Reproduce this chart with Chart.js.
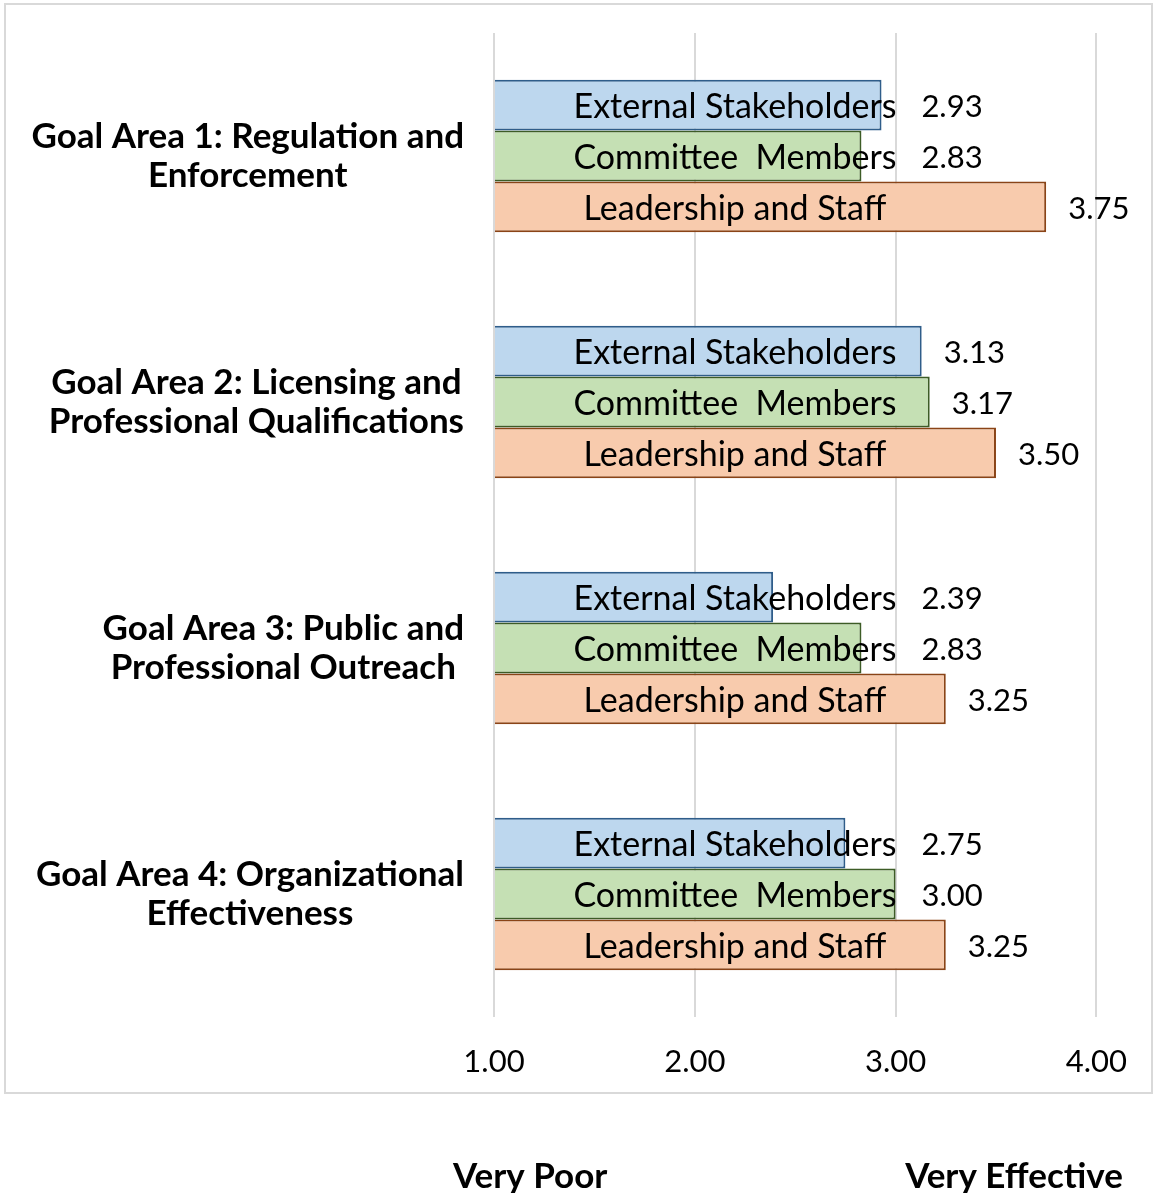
<!DOCTYPE html>
<html>
<head>
<meta charset="utf-8">
<script src="https://cdn.jsdelivr.net/npm/chart.js@4/dist/chart.umd.min.js"></script>
<style>
  html, body { margin: 0; padding: 0; background: #fff; }
  #wrap { width: 1153px; height: 1193px; position: relative; }
</style>
</head>
<body>
<div id="wrap"><canvas id="chart"></canvas></div>
<script>
// Chart data
const categories = [
  ['Goal Area 1: Regulation and', 'Enforcement'],
  ['Goal Area 2: Licensing and', 'Professional Qualifications'],
  ['Goal Area 3: Public and', 'Professional Outreach'],
  ['Goal Area 4: Organizational', 'Effectiveness']
];
const seriesNames = ['External Stakeholders', 'Committee Members', 'Leadership and Staff'];
const externalStakeholders = [2.93, 3.13, 2.39, 2.75];
const committeeMembers = [2.83, 3.17, 2.83, 3.00];
const leadershipStaff = [3.75, 3.50, 3.25, 3.25];
const xTicks = [1, 2, 3, 4];
const scaleEnds = ['Very Poor', 'Very Effective'];

const FONT = 'Lato, "Open Sans", sans-serif';

/**
 * Draws the frame, category labels, bar labels and the scale end captions
 */
const decorations = {
  id: 'decorations',
  beforeDraw(chart) {
    const ctx = chart.ctx;
    ctx.save();
    ctx.strokeStyle = '#d9d9d9';
    ctx.lineWidth = 2;
    ctx.strokeRect(5, 4, 1147, 1089);
    ctx.restore();
  },
  afterDatasetsDraw(chart) {
    const ctx = chart.ctx;
    const xScale = chart.scales.x;
    const yScale = chart.scales.y;
    ctx.save();

    // Category labels: each block centered on its own lines, right edge near the axis
    ctx.font = 'bold 35px ' + FONT;
    ctx.fillStyle = '#000';
    ctx.textBaseline = 'middle';
    ctx.textAlign = 'center';
    categories.forEach((lines, i) => {
      const cy = yScale.getPixelForTick(i);
      const widest = Math.max(...lines.map(l => ctx.measureText(l).width));
      const cx = xScale.left - 30 - widest / 2;
      const lh = 39;
      lines.forEach((line, j) => {
        ctx.fillText(line, cx, cy + (j - (lines.length - 1) / 2) * lh);
      });
    });

    // Bar labels: series name inside the bar, value after it
    const nameX = xScale.getPixelForValue(2.2);
    chart.data.datasets.forEach((ds, di) => {
      const meta = chart.getDatasetMeta(di);
      meta.data.forEach((bar, i) => {
        ctx.font = '34px ' + FONT;
        ctx.textAlign = 'center';
        const name = seriesNames[di].replace(' Members', '  Members');
        const nameW = ctx.measureText(name).width;
        ctx.fillText(name, nameX, bar.y + 2);
        ctx.font = '31px ' + FONT;
        ctx.textAlign = 'left';
        const vx = Math.max(bar.x + 22, nameX + nameW / 2 + 25);
        ctx.fillText(ds.data[i].toFixed(2), vx, bar.y + 2);
      });
    });

    // Scale end captions under the axis
    ctx.font = 'bold 35px ' + FONT;
    ctx.textAlign = 'center';
    ctx.textBaseline = 'alphabetic';
    ctx.fillText(scaleEnds[0], xScale.getPixelForValue(1.18), 1188);
    ctx.fillText(scaleEnds[1], xScale.getPixelForValue(3.59), 1188);
    ctx.restore();
  }
};

const ctx = document.getElementById('chart').getContext('2d');
new Chart(ctx, {
  type: 'bar',
  data: {
    labels: categories,
    datasets: [
      {
        label: seriesNames[0],
        data: externalStakeholders,
        backgroundColor: '#bdd7ee',
        borderColor: '#2f5d8a'
      },
      {
        label: seriesNames[1],
        data: committeeMembers,
        backgroundColor: '#c5e0b4',
        borderColor: '#3d5c26'
      },
      {
        label: seriesNames[2],
        data: leadershipStaff,
        backgroundColor: '#f8cbad',
        borderColor: '#8a4417'
      }
    ]
  },
  options: {
    indexAxis: 'y',
    responsive: true,
    maintainAspectRatio: false,
    animation: false,
    datasets: {
      bar: {
        base: xTicks[0],
        borderWidth: 2,
        borderSkipped: 'start',
        categoryPercentage: 0.62,
        barPercentage: 1.0
      }
    },
    layout: {
      padding: { left: 494, right: 55, top: 33, bottom: 0 }
    },
    plugins: {
      legend: { display: false },
      tooltip: { enabled: false }
    },
    scales: {
      x: {
        type: 'linear',
        min: xTicks[0],
        max: xTicks[xTicks.length - 1],
        afterBuildTicks: scale => {
          scale.ticks = xTicks.map(v => ({ value: v }));
        },
        afterFit: scale => { scale.height = 176; },
        grid: {
          color: '#d9d9d9',
          lineWidth: 2,
          drawTicks: false
        },
        border: { display: false },
        ticks: {
          padding: 26,
          color: '#000',
          font: { family: FONT, size: 31 },
          callback: v => Number(v).toFixed(2)
        }
      },
      y: {
        type: 'category',
        afterFit: scale => { scale.width = 0; },
        grid: { display: false },
        border: { display: false },
        ticks: { display: false }
      }
    }
  },
  plugins: [decorations]
});
</script>
</body>
</html>
